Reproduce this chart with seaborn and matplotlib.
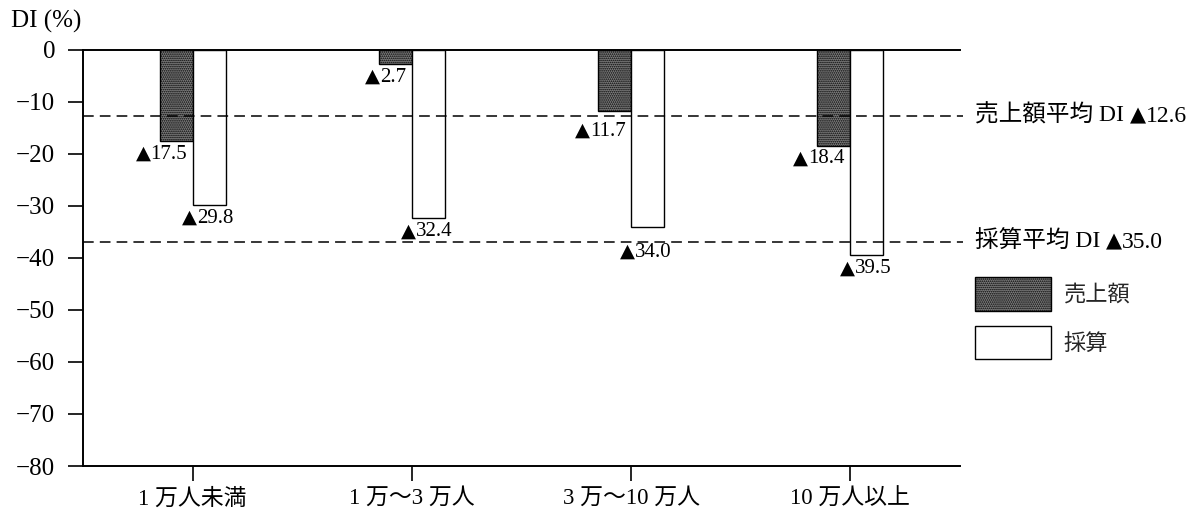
import matplotlib
matplotlib.use('Agg')
import matplotlib.pyplot as plt
import matplotlib.transforms as mtransforms
from matplotlib.patches import Patch
from matplotlib.offsetbox import TextArea, HPacker, AnnotationBbox
import seaborn as sns
import pandas as pd

categories = ['1 万人未満', '1 万〜3 万人', '3 万〜10 万人', '10 万人以上']
series_names = ['売上額', '採算']
sales_di = [-17.5, -2.7, -11.7, -18.4]
profit_di = [-29.8, -32.4, -34.0, -39.5]
avg_names = ['売上額平均 DI', '採算平均 DI']
avg_values = [12.6, 35.0]
avg_line_pos = [-12.6, -36.9]
y_ticks = [0, -10, -20, -30, -40, -50, -60, -70, -80]

# label vertical offsets (points), style only
sales_label_dy = [-2, -2, -7, -2]
profit_label_dy = [-2, -2, -11, -2]

sns.set_theme(style='white')
SERIF = ['Liberation Serif', 'Noto Sans CJK JP', 'DejaVu Sans']
TRI = ['DejaVu Sans']
plt.rcParams['font.family'] = SERIF
plt.rcParams['hatch.linewidth'] = 0.8
plt.rcParams['hatch.color'] = '#3a3a3a'

df = pd.DataFrame({
    'category': categories * 2,
    'series': [s for s in series_names for _ in categories],
    'value': sales_di + profit_di,
})

DARK = '#808080'
W, H = 1201, 523
fig = plt.figure(figsize=(W / 100, H / 100), dpi=100)
ax = fig.add_axes([83 / W, 1 - 466 / H, 877 / W, 416 / H])

sns.barplot(data=df, x='category', y='value', hue='series', order=categories,
            hue_order=series_names, palette=[DARK, '#ffffff'], width=0.3,
            gap=0, edgecolor='black', linewidth=1.0, ax=ax, legend=False,
            saturation=1, errorbar=None)

for bar in ax.containers[0]:
    bar.set_hatch('........')
    bar.set_facecolor(DARK)

ax.set_xlim(-0.5, 3.5)
ax.set_ylim(-80, 0)
ax.set_yticks(y_ticks)
ax.set_yticklabels([f'{t}'.replace('-', '\u2212') for t in y_ticks])
ax.set_xlabel('')
ax.set_ylabel('')

for s in ['left', 'bottom', 'top']:
    ax.spines[s].set_visible(True)
    ax.spines[s].set_color('black')
    ax.spines[s].set_linewidth(1.4)
ax.spines['right'].set_visible(False)
ax.tick_params(axis='y', direction='out', length=11, width=1.2, labelsize=18,
               pad=9, left=True, colors='black')
ax.tick_params(axis='x', direction='out', length=11, width=1.2, labelsize=16.5,
               pad=5, bottom=True, colors='black')
ax.grid(False)


def tri_label(parts, xy, xybox, align, transform=None, xycoords='data'):
    children = [TextArea(t, textprops=dict(fontsize=fs, family=fam, color='black'))
                for t, fs, fam in parts]
    pack = HPacker(children=children, sep=0, pad=0, align='baseline')
    ab = AnnotationBbox(pack, xy, xybox=xybox, xycoords=xycoords,
                        boxcoords='offset points', box_alignment=align,
                        frameon=False, pad=0, annotation_clip=False)
    ax.add_artist(ab)


# value labels
for bar, dy in zip(ax.containers[0], sales_label_dy):
    v = bar.get_height()
    tri_label([('▲', 14, TRI), (f'{abs(v):.1f}', 15, SERIF)],
              (bar.get_x() + bar.get_width(), v), (-4, dy), (1, 1))
for bar, dy in zip(ax.containers[1], profit_label_dy):
    v = bar.get_height()
    tri_label([('▲', 14, TRI), (f'{abs(v):.1f}', 15, SERIF)],
              (bar.get_x() + bar.get_width() / 2, v), (-1, dy), (0.5, 1))

# average lines
trans = mtransforms.blended_transform_factory(ax.transAxes, ax.transData)
for name, val, pos in zip(avg_names, avg_values, avg_line_pos):
    ax.plot([0, 1.003], [pos, pos], transform=trans, color='black', lw=1.1,
            ls=(0, (7, 4)), clip_on=False)
    tri_label([(name + ' ', 17, SERIF), ('▲', 15, TRI), (f'{val:.1f}', 17, SERIF)],
              (1.017, pos), (0, 0), (0, 0.5), xycoords=trans)

# legend
handles = [Patch(facecolor=DARK, edgecolor='black', hatch='........', lw=1.0),
           Patch(facecolor='white', edgecolor='black', lw=1.0)]
fig.legend(handles, series_names, loc='upper left',
           bbox_to_anchor=(975 / W, 1 - 277 / H), frameon=False, fontsize=16,
           handlelength=3.4, handleheight=1.95, handletextpad=0.6,
           labelspacing=0.68, borderpad=0, borderaxespad=0)

fig.text(11 / W, 1 - 21 / H, 'DI (%)', ha='left', va='center', fontsize=18,
         color='black')

fig.savefig('out.png', dpi=100, facecolor='white')
